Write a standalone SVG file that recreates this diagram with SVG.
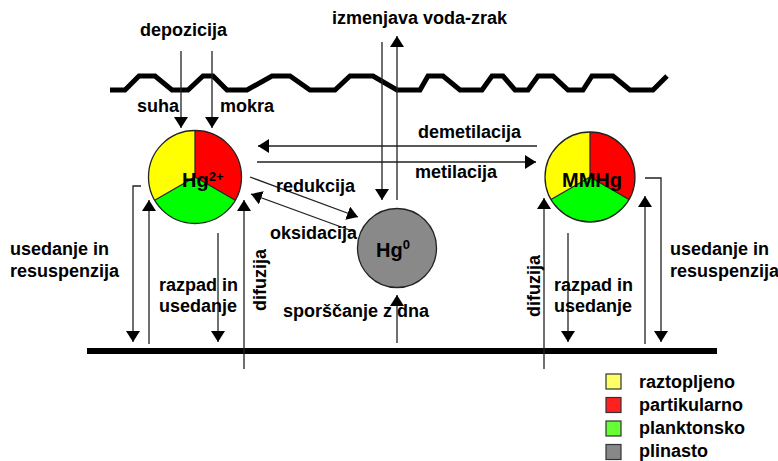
<svg xmlns="http://www.w3.org/2000/svg" width="778" height="461" viewBox="0 0 778 461">
<defs>
<marker id="ah" markerUnits="userSpaceOnUse" markerWidth="12" markerHeight="14" refX="11" refY="7" orient="auto">
<path d="M0,0 L11,7 L0,14 z" fill="#000"/>
</marker>
</defs>
<style>
text{font-family:"Liberation Sans",Arial,sans-serif;font-weight:bold;font-size:18px;fill:#000}
.c{stroke:#222;stroke-width:1.3;fill:none;marker-end:url(#ah)}
.p{stroke:#222;stroke-width:1.3}
.lg{stroke:#333;stroke-width:1.2}
.big{font-size:20px}
.sup{font-size:13px}
</style>
<rect width="778" height="461" fill="#fff"/>
<g id="surface">
<polyline points="110,90 125,90 139,76 155,76 172,90 188,90 203,76 213,76 227,90 247,90 272,76 290,76 310,90 335,90 350,76 373,76 397,90 420,90 428,76 443,76 460,90 482,90 492,76 503,76 515,90 528,90 538,76 553,76 568,90 583,90 592,76 613,76 630,90 653,90 667,76" fill="none" stroke="#000" stroke-width="5" stroke-linejoin="miter"/>
</g>
<g id="bottom">
<line x1="87" y1="351" x2="717" y2="351" stroke="#000" stroke-width="6"/>
</g>
<g id="connectors">
<line class="c" x1="181" y1="51" x2="181" y2="128"/>
<line class="c" x1="212" y1="51" x2="212" y2="128"/>
<line class="c" x1="382" y1="42" x2="382" y2="200"/>
<line class="c" x1="397" y1="200" x2="397" y2="36"/>
<line class="c" x1="537" y1="146" x2="258" y2="146"/>
<line class="c" x1="257" y1="162" x2="536" y2="162"/>
<line class="c" x1="250" y1="177" x2="358" y2="217"/>
<line class="c" x1="355" y1="232" x2="251" y2="194"/>
<polyline class="c" points="141,186 133,186 133,342"/>
<line class="c" x1="149" y1="344" x2="149" y2="200"/>
<line class="c" x1="218" y1="233" x2="218" y2="342"/>
<line class="c" x1="244" y1="369" x2="244" y2="200"/>
<line class="c" x1="397" y1="343" x2="397" y2="295"/>
<line class="c" x1="544" y1="369" x2="544" y2="198"/>
<line class="c" x1="568" y1="233" x2="568" y2="342"/>
<line class="c" x1="645" y1="344" x2="645" y2="196"/>
<polyline class="c" points="645,178 661,178 661,342"/>
</g>
<g id="hg2">
<path d="M195,177 L195,130.5 A46.5,46.5 0 0 1 235.3,200.25 Z" fill="#ff0000"/>
<path d="M195,177 L235.3,200.25 A46.5,46.5 0 0 1 154.7,200.25 Z" fill="#00ff00"/>
<path d="M195,177 L154.7,200.25 A46.5,46.5 0 0 1 195,130.5 Z" fill="#ffff00"/>
<path d="M195,177 L195,130.5 M195,177 L235.3,200.25 M195,177 L154.7,200.25" stroke="#222" stroke-width="1.2"/>
<circle cx="195" cy="177" r="46.5" fill="none" stroke="#222" stroke-width="1.3"/>
<text x="182" y="187" class="big">Hg<tspan class="sup" dy="-6">2+</tspan></text>
</g>
<g id="mmhg">
<path d="M590,177 L590,132 A45,45 0 0 1 629,199.5 Z" fill="#ff0000"/>
<path d="M590,177 L629,199.5 A45,45 0 0 1 551,199.5 Z" fill="#00ff00"/>
<path d="M590,177 L551,199.5 A45,45 0 0 1 590,132 Z" fill="#ffff00"/>
<path d="M590,177 L590,132 M590,177 L629,199.5 M590,177 L551,199.5" stroke="#222" stroke-width="1.2"/>
<circle cx="590" cy="177" r="45" fill="none" stroke="#222" stroke-width="1.3"/>
<text x="562" y="187" class="big">MMHg</text>
</g>
<g id="hg0">
<circle cx="397" cy="248" r="39.5" fill="#898989" stroke="#222" stroke-width="1.3"/>
<text x="376" y="257" class="big">Hg<tspan class="sup" dy="-8">0</tspan></text>
</g>
<g id="labels">
<text x="332" y="24">izmenjava voda-zrak</text>
<text x="140" y="36">depozicija</text>
<text x="137" y="112">suha</text>
<text x="220" y="112">mokra</text>
<text x="418" y="138">demetilacija</text>
<text x="415" y="178">metilacija</text>
<text x="276" y="192">redukcija</text>
<text x="270" y="239">oksidacija</text>
<text x="10" y="255">usedanje in</text>
<text x="10" y="277">resuspenzija</text>
<text x="159" y="291">razpad in</text>
<text x="159" y="312">usedanje</text>
<text transform="translate(266,311) rotate(-90)">difuzija</text>
<text x="283" y="317">sporščanje z dna</text>
<text transform="translate(540,317) rotate(-90)">difuzija</text>
<text x="554" y="291">razpad in</text>
<text x="554" y="312">usedanje</text>
<text x="670" y="255">usedanje in</text>
<text x="670" y="277">resuspenzija</text>
</g>
<g id="legend">
<rect class="lg" x="606" y="374" width="15" height="15" fill="#ffff66"/>
<rect class="lg" x="606" y="397.5" width="15" height="15" fill="#ff2020"/>
<rect class="lg" x="606" y="421" width="15" height="15" fill="#66ff33"/>
<rect class="lg" x="606" y="444.5" width="15" height="15" fill="#888888"/>
<text x="639" y="388">raztopljeno</text>
<text x="639" y="411">partikularno</text>
<text x="639" y="434">planktonsko</text>
<text x="639" y="457">plinasto</text>
</g>
</svg>
